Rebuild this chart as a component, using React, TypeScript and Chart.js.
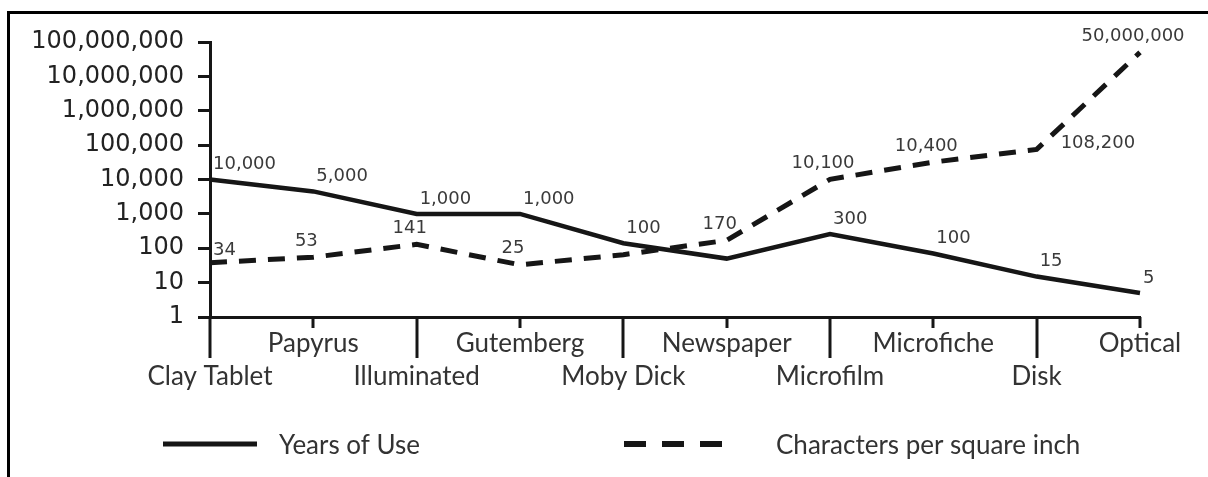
import React, { useEffect, useRef } from "react";
import { Chart, registerables } from "chart.js";

Chart.register(...registerables);

// ---- data ----
const categories = [
  "Clay Tablet",
  "Papyrus",
  "Illuminated",
  "Gutemberg",
  "Moby Dick",
  "Newspaper",
  "Microfilm",
  "Microfiche",
  "Disk",
  "Optical",
];
const yearsOfUse = [10000, 4500, 1000, 1000, 140, 50, 260, 70, 15, 5];
const charsPerSquareInch = [38, 55, 130, 33, 65, 170, 10100, 32000, 75000, 50000000];
const yearsLabels = ["10,000", "5,000", "1,000", "1,000", "100", null, "300", "100", "15", "5"];
const charsLabels = ["34", "53", "141", "25", null, "170", "10,100", "10,400", "108,200", "50,000,000"];
const yTickValues = [1, 10, 100, 1000, 10000, 100000, 1000000, 10000000, 100000000];
const legendNames = ["Years of Use", "Characters per square inch"];

// ---- styling (placement of value labels) ----
const charLabelPlacement = ["left", "above", "above", "above", "above", "above", "above", "above", "right", "above"];

const INK = "#161616";
const TEXT = "#333";

const axisTicksPlugin = {
  id: "axisTicks",
  afterDraw(chart: any) {
    const { ctx, chartArea } = chart;
    const xs = chart.scales.x;
    ctx.save();
    ctx.strokeStyle = INK;
    ctx.lineWidth = 3;
    xs.ticks.forEach((_: any, i: number) => {
      const px = Math.round(xs.getPixelForTick(i));
      ctx.beginPath();
      ctx.moveTo(px, chartArea.bottom);
      ctx.lineTo(px, chartArea.bottom + (i % 2 === 0 ? 41 : 11));
      ctx.stroke();
    });
    ctx.restore();
  },
};

const valueLabelsPlugin = {
  id: "valueLabels",
  afterDatasetsDraw(chart: any) {
    const { ctx } = chart;
    ctx.save();
    ctx.font = "18px 'DejaVu Sans'";
    ctx.fillStyle = "#3a3a3a";
    ctx.textBaseline = "middle";
    const m0 = chart.getDatasetMeta(0);
    m0.data.forEach((pt: any, i: number) => {
      const t = yearsLabels[i];
      if (!t) return;
      ctx.textAlign = "left";
      ctx.fillText(t, pt.x + 3, pt.y - 15);
    });
    const m1 = chart.getDatasetMeta(1);
    m1.data.forEach((pt: any, i: number) => {
      const t = charsLabels[i];
      if (!t) return;
      const p = charLabelPlacement[i];
      if (p === "left") {
        ctx.textAlign = "left";
        ctx.fillText(t, pt.x + 3, pt.y - 12);
      } else if (p === "right") {
        ctx.textAlign = "left";
        ctx.fillText(t, pt.x + 24, pt.y - 6);
      } else {
        ctx.textAlign = "center";
        ctx.fillText(t, pt.x - 7, pt.y - 16);
      }
    });
    ctx.restore();
  },
};

const legendPlugin = {
  id: "customLegend",
  afterDraw(chart: any) {
    const { ctx } = chart;
    ctx.save();
    ctx.strokeStyle = INK;
    ctx.lineCap = "butt";
    ctx.lineWidth = 5;
    ctx.setLineDash([]);
    ctx.beginPath();
    ctx.moveTo(163, 444);
    ctx.lineTo(257, 444);
    ctx.stroke();
    ctx.lineWidth = 6;
    ctx.setLineDash([22, 16]);
    ctx.beginPath();
    ctx.moveTo(624, 444);
    ctx.lineTo(722, 444);
    ctx.stroke();
    ctx.setLineDash([]);
    ctx.font = "26px Lato";
    ctx.fillStyle = TEXT;
    ctx.textAlign = "left";
    ctx.textBaseline = "middle";
    ctx.fillText(legendNames[0], 279, 446);
    ctx.fillText(legendNames[1], 776, 446);
    ctx.restore();
  },
};

export default function App() {
  const ref = useRef<HTMLCanvasElement | null>(null);

  useEffect(() => {
    if (!ref.current) return;
    const chart = new Chart(ref.current, {
      type: "line",
      data: {
        labels: categories.map((c, i) => (i % 2 === 0 ? ["", c] : [c])),
        datasets: [
          {
            label: legendNames[0],
            data: yearsOfUse,
            borderColor: INK,
            borderWidth: 4.5,
            pointRadius: 0,
            tension: 0,
            fill: false,
          },
          {
            label: legendNames[1],
            data: charsPerSquareInch,
            borderColor: INK,
            borderWidth: 5,
            borderDash: [17, 12],
            pointRadius: 0,
            tension: 0,
            fill: false,
          },
        ],
      },
      options: {
        responsive: false,
        animation: false,
        events: [],
        layout: { padding: { left: 0, top: 42, right: 68, bottom: 0 } },
        plugins: { legend: { display: false }, tooltip: { enabled: false } },
        scales: {
          x: {
            type: "category",
            offset: false,
            grid: { display: false, drawTicks: false },
            border: { display: true, color: INK, width: 3 },
            ticks: {
              padding: 10,
              autoSkip: false,
              maxRotation: 0,
              color: TEXT,
              font: { family: "Lato", size: 26, lineHeight: 1.27 },
            },
            afterFit: (s: any) => {
              s.height = 160;
            },
          },
          y: {
            type: "logarithmic",
            min: 1,
            max: 100000000,
            afterBuildTicks: (s: any) => {
              s.ticks = yTickValues.map((v) => ({ value: v }));
            },
            grid: {
              drawOnChartArea: false,
              drawTicks: true,
              tickLength: 12,
              lineWidth: 3,
              color: INK,
            },
            border: { display: true, color: INK, width: 3 },
            ticks: {
              padding: 14,
              color: "#222",
              font: { family: "'DejaVu Sans'", size: 24 },
              callback: (v: any) => Number(v).toLocaleString("en-US"),
            },
            afterFit: (s: any) => {
              s.width = 210;
            },
          },
        },
      },
      plugins: [axisTicksPlugin, valueLabelsPlugin, legendPlugin],
    } as any);
    return () => chart.destroy();
  }, []);

  return (
    <div
      style={{
        position: "fixed",
        left: 0,
        top: 0,
        width: 1208,
        height: 477,
        background: "#fff",
        overflow: "hidden",
      }}
    >
      <div
        style={{
          position: "absolute",
          left: 7,
          top: 11,
          right: 0,
          bottom: 0,
          borderTop: "3px solid #000",
          borderLeft: "3px solid #000",
        }}
      />
      <canvas
        ref={ref}
        width={1208}
        height={477}
        style={{ position: "absolute", left: 0, top: 0, display: "block" }}
      />
    </div>
  );
}
